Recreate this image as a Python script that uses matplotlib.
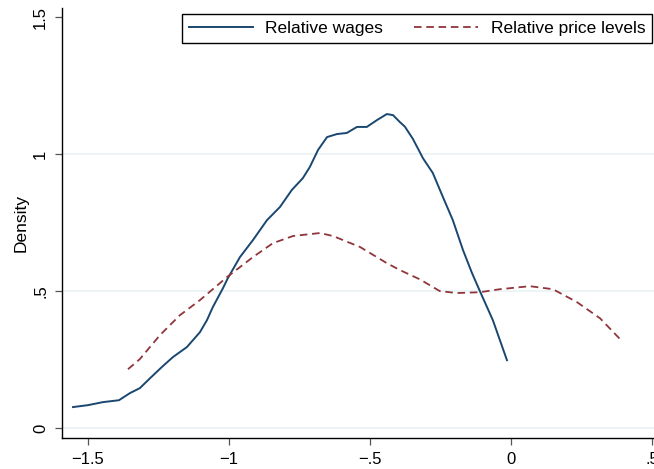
import matplotlib
matplotlib.use("Agg")
import matplotlib.pyplot as plt

plt.rcParams['font.family'] = ['Liberation Sans', 'DejaVu Sans']

# Relative wages (kernel density)
wage_x = [-1.553, -1.5, -1.447, -1.390, -1.351, -1.316, -1.280, -1.238, -1.199, -1.149,
          -1.103, -1.078, -1.057, -1.021, -1.004, -0.961, -0.915, -0.865, -0.819, -0.777,
          -0.738, -0.713, -0.684, -0.652, -0.617, -0.582, -0.546, -0.511, -0.475, -0.440,
          -0.418, -0.394, -0.376, -0.348, -0.323, -0.312, -0.277, -0.241, -0.206, -0.170,
          -0.138, -0.110, -0.064, -0.014]
wage_y = [0.077, 0.084, 0.095, 0.102, 0.128, 0.146, 0.182, 0.223, 0.259, 0.296,
          0.350, 0.394, 0.442, 0.511, 0.547, 0.624, 0.686, 0.759, 0.807, 0.869,
          0.912, 0.953, 1.015, 1.062, 1.073, 1.077, 1.099, 1.099, 1.124, 1.146,
          1.142, 1.117, 1.100, 1.056, 1.007, 0.985, 0.931, 0.843, 0.759, 0.650,
          0.566, 0.500, 0.394, 0.248]

# Relative price levels
price_x = [-1.358, -1.316, -1.245, -1.174, -1.103, -1.007, -0.915, -0.844, -0.773, -0.677,
           -0.631, -0.535, -0.440, -0.394, -0.323, -0.252, -0.191, -0.110, -0.039, 0.067,
           0.149, 0.234, 0.316, 0.387]
price_y = [0.215, 0.252, 0.339, 0.412, 0.467, 0.551, 0.624, 0.675, 0.701, 0.712,
           0.701, 0.661, 0.602, 0.577, 0.543, 0.500, 0.493, 0.496, 0.507, 0.518,
           0.507, 0.460, 0.401, 0.325]

xticks = [-1.5, -1, -0.5, 0, 0.5]
xtick_labels = ['\u22121.5', '\u22121', '\u2212.5', '0', '.5']
yticks = [0, 0.5, 1, 1.5]
ytick_labels = ['0', '.5', '1', '1.5']

fig = plt.figure(figsize=(6.54, 4.69), dpi=100)
ax = fig.add_axes([0.0948, 0.066, 0.905, 0.917])

ax.plot(wage_x, wage_y, color='#1a476f', lw=1.4, label='Relative wages')
ax.plot(price_x, price_y, color='#90353b', lw=1.3, ls=(0, (4.2, 2.6)),
        label='Relative price levels')

ax.set_xlim(-1.592, 0.507)
ax.set_ylim(-0.036, 1.533)
ax.set_xticks(xticks)
ax.set_xticklabels(xtick_labels, fontsize=12)
ax.set_yticks(yticks)
ax.set_yticklabels(ytick_labels, fontsize=12, rotation=90, va='center')
ax.set_ylabel('Density', fontsize=12.5, labelpad=3)

for t in [0, 0.5, 1]:
    ax.axhline(t, color='#eaf2f3', lw=1.2, zorder=0)

for s in ['top', 'right']:
    ax.spines[s].set_visible(False)
ax.spines['left'].set_linewidth(1.0)
ax.spines['bottom'].set_linewidth(1.0)
ax.tick_params(direction='out', length=5, width=0.9, color='#555555', pad=5)

leg = ax.legend(loc='upper right', bbox_to_anchor=(1.0, 0.99), ncol=2, fontsize=12.5,
                frameon=True, fancybox=False, edgecolor='black', framealpha=1,
                handlelength=3.7, handletextpad=0.7, columnspacing=1.8,
                borderpad=0.4, borderaxespad=0.1)
leg.get_frame().set_linewidth(1.0)

fig.savefig('out.png', dpi=100)
